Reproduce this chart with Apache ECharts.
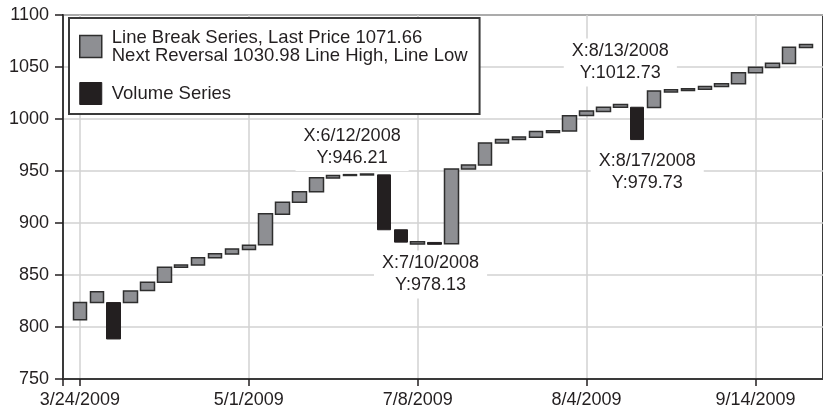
<!DOCTYPE html>
<html>
<head>
<meta charset="utf-8">
<script src="https://cdn.jsdelivr.net/npm/echarts@6/dist/echarts.min.js"></script>
<style>
html,body{margin:0;padding:0;background:#fff;}
#chart{width:823px;height:415px;}
</style>
</head>
<body>
<div id="chart"></div>
<script>
// ---- data ----
// category slots: slot 0 and slot 45 are padding, bars sit in slots 1..44
const categories = Array.from({length: 46}, (_, i) => 'c' + i);
const tickSlots = [1, 11, 21, 31, 41];
const tickLabels = ['3/24/2009', '5/1/2009', '7/8/2009', '8/4/2009', '9/14/2009'];

// each line-break bar: open, close, kind (L = Line Break Series, V = Volume Series)
const barOpen = [
  807, 823.5, 823.5, 823.5, 835, 843, 857.5, 859.5, 866.5, 870.2,
  874.5, 879, 908.5, 920, 930, 943.2, 945.7, 946.2, 946.3, 893.5,
  879.8, 881.3, 880, 952, 955.7, 977, 980.3, 982.5, 987, 988.5,
  1003.3, 1007.3, 1011.2, 1011.3, 1011, 1026, 1027.5, 1028.5, 1031.2, 1034,
  1044.5, 1049.5, 1053.3, 1068.8
];
const barClose = [
  823.5, 834, 788.5, 834.5, 843, 857.5, 859.5, 866.5, 870.5, 875,
  878.5, 909, 920, 930, 943.5, 945.6, 946.5, 947.1, 893.5, 881.6,
  881.9, 879.5, 952, 955.7, 977, 980.3, 982.8, 988, 988.6, 1003.2,
  1007.7, 1011.3, 1014, 980.2, 1027, 1028.2, 1029, 1031.3, 1034, 1044.5,
  1049.8, 1053.5, 1069, 1071.66
];
const barKind = [
  'L','L','V','L','L','L','L','L','L','L',
  'L','L','L','L','L','L','L','L','V','V',
  'L','V','L','L','L','L','L','L','L','L',
  'L','L','L','V','L','L','L','L','L','L',
  'L','L','L','L'
];

const seriesNames = ['Line Break Series', 'Volume Series'];
const legendTexts = [
  'Line Break Series, Last Price 1071.66\nNext Reversal 1030.98 Line High, Line Low',
  'Volume Series'
];

// annotations: anchor bar index, anchor value, text
const annotBar = [16, 21, 32, 33];
const annotValue = [946.21, 879.4, 1014, 980.2];
const annotText = [
  'X:6/12/2008\nY:946.21',
  'X:7/10/2008\nY:978.13',
  'X:8/13/2008\nY:1012.73',
  'X:8/17/2008\nY:979.73'
];
const annotOffset = [[2, -28], [-4, 30], [0, -42], [10, 32]];

// ---- build ----
const FONT = '"Liberation Sans", Arial, Helvetica, sans-serif';
const TXT = '#231f20';
const GRAY = '#8e8f93';
const BLACK = '#231f20';
const EDGE = '#2e2e2e';

function barData(kind) {
  const out = [];
  barOpen.forEach((o, i) => {
    if (barKind[i] !== kind) return;
    const c = barClose[i];
    out.push([i + 1, o, c, Math.min(o, c), Math.max(o, c)]);
  });
  return out;
}

const tickSet = new Set(tickSlots);
const tickSetWithZero = new Set([0].concat(tickSlots));

const markData = annotBar.map((b, k) => ({
  coord: [categories[b + 1], annotValue[k]],
  label: {offset: annotOffset[k], formatter: annotText[k]}
}));

const chart = echarts.init(document.getElementById('chart'), null, {renderer: 'canvas'});
const option = {
  animation: false,
  backgroundColor: '#fff',
  grid: {
    left: 63, right: -2, top: 15, bottom: 36,
    show: true, borderColor: '#3a3a3a', borderWidth: 2, backgroundColor: 'transparent'
  },
  xAxis: {
    type: 'category',
    data: categories,
    boundaryGap: false,
    axisLine: {lineStyle: {color: '#3a3a3a', width: 2}},
    axisTick: {
      interval: (i) => tickSetWithZero.has(i),
      length: 7,
      lineStyle: {color: TXT, width: 1.5}
    },
    axisLabel: {
      interval: (i) => tickSet.has(i),
      formatter: (v, i) => {
        const k = tickSlots.indexOf(i);
        return k >= 0 ? tickLabels[k] : '';
      },
      fontSize: 18, color: TXT, fontFamily: FONT, margin: 12
    },
    splitLine: {
      show: true,
      interval: (i) => tickSet.has(i),
      lineStyle: {color: '#d2d2d2', width: 1.5}
    }
  },
  yAxis: {
    type: 'value',
    min: 750, max: 1100, interval: 50,
    axisLine: {show: true, lineStyle: {color: '#3a3a3a', width: 2}},
    axisTick: {show: true, length: 8, lineStyle: {color: TXT, width: 1.5}},
    axisLabel: {fontSize: 18, color: TXT, fontFamily: FONT, margin: 14, formatter: (v) => String(v)},
    splitLine: {show: true, lineStyle: {color: '#d2d2d2', width: 1.5}}
  },
  legend: {
    orient: 'vertical',
    left: 69, top: 18,
    padding: [10, 12, 9, 10],
    itemWidth: 22, itemHeight: 22, itemGap: 17,
    backgroundColor: '#fff',
    borderColor: '#3a3a3a', borderWidth: 2,
    textStyle: {fontSize: 18.5, lineHeight: 18, color: TXT, fontFamily: FONT, padding: [0, 0, 0, 5]},
    formatter: (name) => legendTexts[seriesNames.indexOf(name)],
    data: [
      {name: seriesNames[0], icon: 'rect', itemStyle: {color: GRAY, borderColor: EDGE, borderWidth: 1.5}},
      {name: seriesNames[1], icon: 'rect', itemStyle: {color: BLACK, borderColor: BLACK, borderWidth: 1}}
    ]
  },
  series: [
    {
      name: seriesNames[0],
      type: 'candlestick',
      barWidth: 14,
      encode: {x: 0, y: [1, 2, 3, 4]},
      data: barData('L'),
      itemStyle: {color: GRAY, color0: GRAY, borderColor: EDGE, borderColor0: EDGE, borderWidth: 1.5},
      markPoint: {
        symbol: 'circle', symbolSize: 0,
        itemStyle: {color: 'transparent'},
        label: {
          show: true, position: 'inside',
          fontSize: 18, lineHeight: 22, color: TXT, fontFamily: FONT,
          backgroundColor: '#fff', padding: [2, 8]
        },
        data: markData
      }
    },
    {
      name: seriesNames[1],
      type: 'candlestick',
      barWidth: 14,
      encode: {x: 0, y: [1, 2, 3, 4]},
      data: barData('V'),
      itemStyle: {color: BLACK, color0: BLACK, borderColor: BLACK, borderColor0: BLACK, borderWidth: 1}
    }
  ]
};
chart.setOption(option);
</script>
</body>
</html>
